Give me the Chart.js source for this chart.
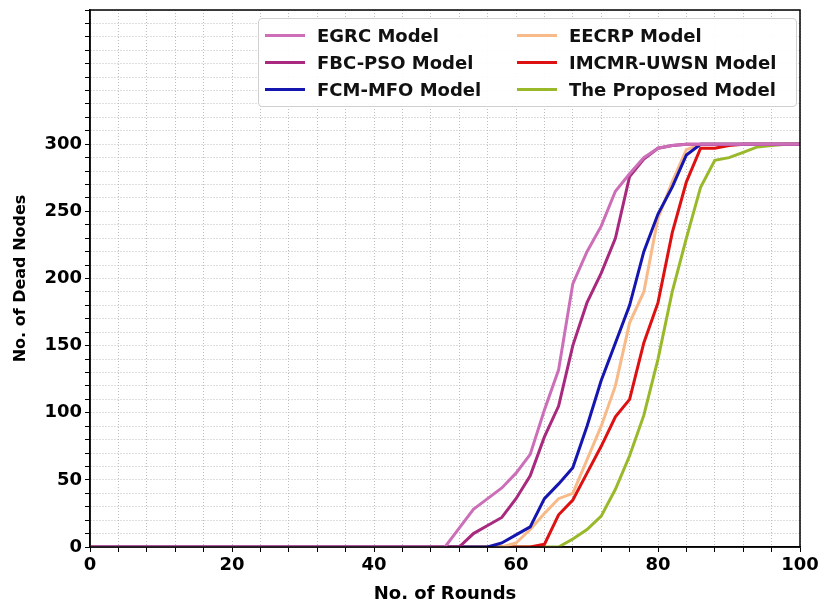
<!DOCTYPE html>
<html>
<head>
<meta charset="utf-8">
<script src="https://cdn.jsdelivr.net/npm/chart.js@4/dist/chart.umd.min.js"></script>
<style>
  html, body { margin: 0; padding: 0; background: #fff; }
  #wrap { position: relative; width: 819px; height: 605px; }
  #legend {
    position: absolute; left: 258px; top: 18px; width: 539px; height: 89px;
    box-sizing: border-box; border: 1px solid #d0d0d0; border-radius: 4px;
    background: rgba(255,255,255,0.92);
    font-family: "DejaVu Sans", sans-serif; font-weight: bold; font-size: 18px; color: #111;
    display: grid; grid-template-columns: 252px 270px; grid-template-rows: 27px 27px 27px;
    grid-auto-flow: column; padding: 3px 0 0 6px;
  }
  #legend .item { display: flex; align-items: center; white-space: nowrap; }
  #legend .sw { display: inline-block; width: 40px; height: 3px; margin-right: 12px; }
</style>
</head>
<body>
<div id="wrap">
  <canvas id="c" width="819" height="605"></canvas>
  <div id="legend"></div>
</div>
<script>
const rounds = [0,2,4,6,8,10,12,14,16,18,20,22,24,26,28,30,32,34,36,38,40,42,44,46,48,50,52,54,56,58,60,62,64,66,68,70,72,74,76,78,80,82,84,86,88,90,92,94,96,98,100];
const seriesNames = ["EGRC Model","FBC-PSO Model","FCM-MFO Model","EECRP Model","IMCMR-UWSN Model","The Proposed Model"];
const egrc     = [0,0,0,0,0,0,0,0,0,0,0,0,0,0,0,0,0,0,0,0,0,0,0,0,0,0,14,28,36,44,55,69,102,132,196,220,239,265,278,290,297,299,300,300,300,300,300,300,300,300,300];
const fbcPso   = [0,0,0,0,0,0,0,0,0,0,0,0,0,0,0,0,0,0,0,0,0,0,0,0,0,0,0,10,16,22,36,53,82,105,150,182,204,230,276,289,297,299,300,300,300,300,300,300,300,300,300];
const fcmMfo   = [0,0,0,0,0,0,0,0,0,0,0,0,0,0,0,0,0,0,0,0,0,0,0,0,0,0,0,0,0,3,9,15,36,47,59,90,124,152,180,220,248,268,292,300,300,300,300,300,300,300,300];
const eecrp    = [0,0,0,0,0,0,0,0,0,0,0,0,0,0,0,0,0,0,0,0,0,0,0,0,0,0,0,0,0,0,3,13,25,36,40,65,90,120,167,190,245,272,296,300,300,300,300,300,300,300,300];
const imcmr    = [0,0,0,0,0,0,0,0,0,0,0,0,0,0,0,0,0,0,0,0,0,0,0,0,0,0,0,0,0,0,0,0,2,24,35,55,75,97,110,152,182,234,272,297,297,299,300,300,300,300,300];
const proposed = [0,0,0,0,0,0,0,0,0,0,0,0,0,0,0,0,0,0,0,0,0,0,0,0,0,0,0,0,0,0,0,0,0,0,6,13,23,43,68,98,140,190,230,268,288,290,294,298,299,300,300];
const xTickLabels = [0,20,40,60,80,100];
const yTickLabels = [0,50,100,150,200,250,300];

const colors = ["#cc6fb8","#a8297e","#1515b0","#f7ba88","#dd1111","#99b92a"];
const allSeries = [egrc, fbcPso, fcmMfo, eecrp, imcmr, proposed];

const datasets = allSeries.map((s, i) => ({
  label: seriesNames[i],
  data: rounds.map((r, j) => ({x: r, y: s[j]})),
  borderColor: colors[i],
  backgroundColor: colors[i],
  borderWidth: 3,
  pointRadius: 0,
  tension: 0,
  fill: false
}));
const font = {family: "'DejaVu Sans', sans-serif", weight: "bold", size: 18};
const yTitleFont = {family: "'DejaVu Sans', sans-serif", weight: "bold", size: 16};

const boxPlugin = {
  id: 'box',
  afterDraw(chart) {
    const a = chart.chartArea, ctx = chart.ctx;
    ctx.save();
    ctx.strokeStyle = '#000';
    ctx.lineWidth = 1.5;
    ctx.setLineDash([]);
    ctx.strokeRect(a.left, a.top, a.right - a.left, a.bottom - a.top);
    ctx.restore();
  }
};

const chart = new Chart(document.getElementById('c'), {
  type: 'line',
  data: { datasets },
  options: {
    responsive: false,
    animation: false,
    layout: { padding: { left: 0, right: 19, top: 10, bottom: 0 } },
    plugins: { legend: { display: false }, tooltip: { enabled: false } },
    scales: {
      x: {
        type: 'linear', min: 0, max: 100,
        ticks: {
          stepSize: 4, autoSkip: false, maxRotation: 0, color: '#000', font,
          callback: v => xTickLabels.includes(v) ? String(v) : ''
        },
        grid: { color: '#bdbdbd', lineWidth: 1, tickLength: 5, tickColor: '#000', tickBorderDash: [] },
        border: { color: '#000', width: 1.5, dash: [1, 2] },
        title: { display: true, text: 'No. of Rounds', color: '#000', font, padding: {top: 2, bottom: 0} },
        afterFit: s => { s.height = 58; s.paddingLeft = 0; s.paddingRight = 0; }
      },
      y: {
        min: 0, max: 400,
        ticks: {
          stepSize: 10, autoSkip: false, color: '#000', font,
          callback: v => yTickLabels.includes(v) ? String(v) : ''
        },
        grid: { color: '#bdbdbd', lineWidth: 1, tickLength: 5, tickColor: '#000', tickBorderDash: [] },
        border: { color: '#000', width: 1.5, dash: [1, 2] },
        title: { display: true, text: 'No. of Dead Nodes', color: '#000', font: yTitleFont, padding: {top: 11, bottom: 4} },
        afterFit: s => { s.width = 90; s.paddingTop = 0; s.paddingBottom = 0; }
      }
    }
  },
  plugins: [boxPlugin]
});

const leg = document.getElementById('legend');
datasets.forEach(ds => {
  const it = document.createElement('div');
  it.className = 'item';
  const sw = document.createElement('span');
  sw.className = 'sw';
  sw.style.background = ds.borderColor;
  it.appendChild(sw);
  it.appendChild(document.createTextNode(ds.label));
  leg.appendChild(it);
});
</script>
</body>
</html>
